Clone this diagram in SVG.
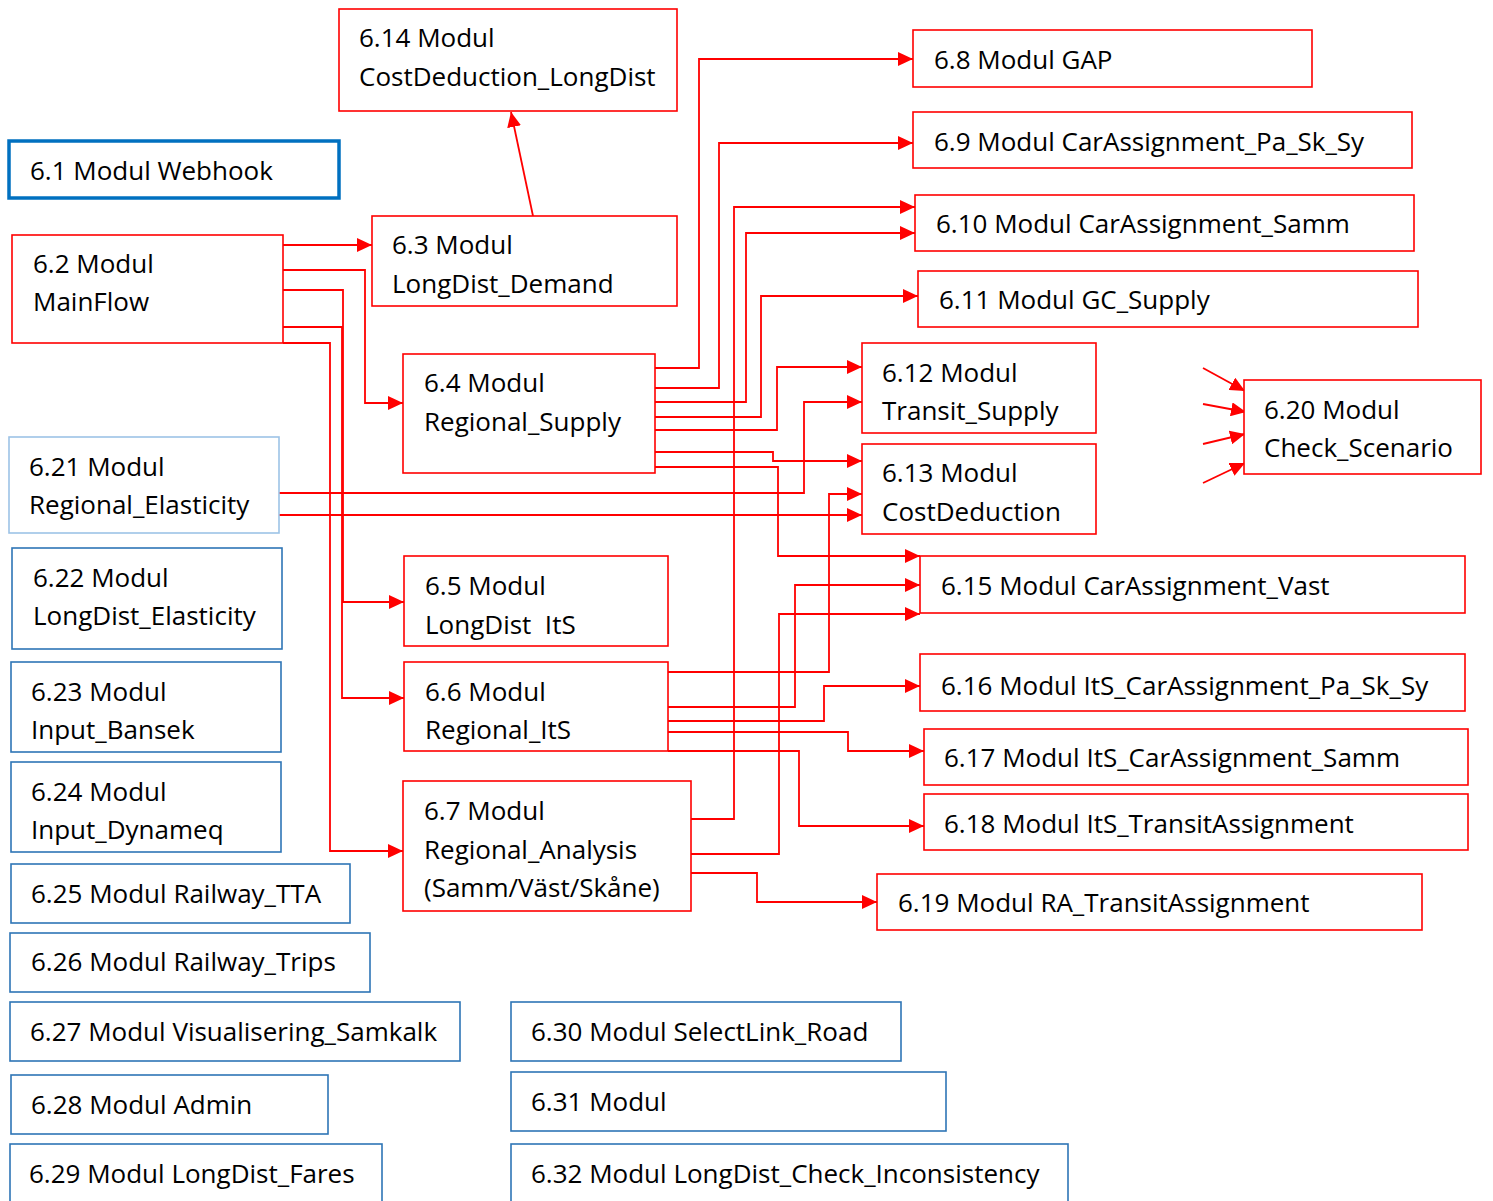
<svg xmlns="http://www.w3.org/2000/svg" width="1493" height="1201" viewBox="0 0 1493 1201">
<style>
text{font-family:"Open Sans","Noto Sans",sans-serif;font-size:26px;fill:#000;white-space:pre}
.r{fill:#fff;stroke:#ff0000;stroke-width:1.6}
.b{fill:#fff;stroke:#2e75b6;stroke-width:1.6}
.bt{fill:#fff;stroke:#0070c0;stroke-width:3.5}
.bl{fill:#fff;stroke:#9dc3e6;stroke-width:1.6}
.c{fill:none;stroke:#ff0000;stroke-width:1.8;marker-end:url(#ah)}
</style>
<defs>
<marker id="ah" markerUnits="userSpaceOnUse" markerWidth="16" markerHeight="14" refX="15" refY="7" orient="auto">
<path d="M0,0 L15,7 L0,14 Z" fill="#ff0000"/>
</marker>
</defs>
<rect width="1493" height="1201" fill="#fff"/>
<g id="connectors">
<path class="c" d="M283,245 H372"/>
<path class="c" d="M283,270 H365 V403 H403"/>
<path class="c" d="M283,290 H343 V602 H404"/>
<path class="c" d="M283,327 H342 V698 H404"/>
<path class="c" d="M283,343 H330 V851 H403"/>
<path class="c" d="M533,216 L511,112"/>
<path class="c" d="M655,368 H699 V59 H913"/>
<path class="c" d="M655,388 H719 V143 H913"/>
<path class="c" d="M655,402 H746 V233 H915"/>
<path class="c" d="M655,417 H761 V296 H918"/>
<path class="c" d="M655,430 H777 V367 H862"/>
<path class="c" d="M655,452 H773 V461 H862"/>
<path class="c" d="M655,467 H778 V556 H920"/>
<path class="c" d="M691,819 H734 V207 H915"/>
<path class="c" d="M279,493 H804 V402 H862"/>
<path class="c" d="M279,515 H862"/>
<path class="c" d="M668,672 H829 V494 H862"/>
<path class="c" d="M668,707 H795 V585 H920"/>
<path class="c" d="M668,721 H824 V686 H920"/>
<path class="c" d="M668,732 H848 V751 H924"/>
<path class="c" d="M668,751 H799 V826 H924"/>
<path class="c" d="M691,854 H779 V614 H920"/>
<path class="c" d="M691,873 H757 V902 H877"/>
<path class="c" d="M1203,368 L1245,391"/>
<path class="c" d="M1203,404 L1246,412"/>
<path class="c" d="M1203,444 L1245,434"/>
<path class="c" d="M1203,483 L1245,463"/>
</g>
<g id="n6_14"><rect class="r" x="339" y="9" width="338" height="102"/><text x="359" y="47">6.14 Modul</text><text x="359" y="86">CostDeduction_LongDist</text></g>
<g id="n6_1"><rect class="bt" x="9" y="141" width="330" height="57"/><text x="30" y="180">6.1 Modul Webhook</text></g>
<g id="n6_2"><rect class="r" x="12" y="235" width="271" height="108"/><text x="33" y="273">6.2 Modul</text><text x="33" y="311">MainFlow</text></g>
<g id="n6_3"><rect class="r" x="372" y="216" width="305" height="90"/><text x="392" y="254">6.3 Modul</text><text x="392" y="293">LongDist_Demand</text></g>
<g id="n6_4"><rect class="r" x="403" y="354" width="252" height="119"/><text x="424" y="392">6.4 Modul</text><text x="424" y="431">Regional_Supply</text></g>
<g id="n6_5"><rect class="r" x="404" y="556" width="264" height="90"/><text x="425" y="595">6.5 Modul</text><text x="425" y="634">LongDist  ItS</text></g>
<g id="n6_6"><rect class="r" x="404" y="662" width="264" height="89"/><text x="425" y="701">6.6 Modul</text><text x="425" y="739">Regional_ItS</text></g>
<g id="n6_7"><rect class="r" x="403" y="781" width="288" height="130"/><text x="424" y="820">6.7 Modul</text><text x="424" y="859">Regional_Analysis</text><text x="424" y="897">(Samm/Väst/Skåne)</text></g>
<g id="n6_8"><rect class="r" x="913" y="30" width="399" height="57"/><text x="934" y="69">6.8 Modul GAP</text></g>
<g id="n6_9"><rect class="r" x="913" y="112" width="499" height="56"/><text x="934" y="151">6.9 Modul CarAssignment_Pa_Sk_Sy</text></g>
<g id="n6_10"><rect class="r" x="915" y="195" width="499" height="56"/><text x="936" y="233">6.10 Modul CarAssignment_Samm</text></g>
<g id="n6_11"><rect class="r" x="918" y="271" width="500" height="56"/><text x="939" y="309">6.11 Modul GC_Supply</text></g>
<g id="n6_12"><rect class="r" x="862" y="343" width="234" height="90"/><text x="882" y="382">6.12 Modul</text><text x="882" y="420">Transit_Supply</text></g>
<g id="n6_13"><rect class="r" x="862" y="444" width="234" height="90"/><text x="882" y="482">6.13 Modul</text><text x="882" y="521">CostDeduction</text></g>
<g id="n6_15"><rect class="r" x="920" y="556" width="545" height="57"/><text x="941" y="595">6.15 Modul CarAssignment_Vast</text></g>
<g id="n6_16"><rect class="r" x="920" y="654" width="545" height="57"/><text x="941" y="695">6.16 Modul ItS_CarAssignment_Pa_Sk_Sy</text></g>
<g id="n6_17"><rect class="r" x="924" y="729" width="544" height="56"/><text x="944" y="767">6.17 Modul ItS_CarAssignment_Samm</text></g>
<g id="n6_18"><rect class="r" x="924" y="794" width="544" height="56"/><text x="944" y="833">6.18 Modul ItS_TransitAssignment</text></g>
<g id="n6_19"><rect class="r" x="877" y="874" width="545" height="56"/><text x="898" y="912">6.19 Modul RA_TransitAssignment</text></g>
<g id="n6_20"><rect class="r" x="1244" y="380" width="237" height="94"/><text x="1264" y="419">6.20 Modul</text><text x="1264" y="457">Check_Scenario</text></g>
<g id="n6_21"><rect class="bl" x="9" y="437" width="270" height="96"/><text x="29" y="476">6.21 Modul</text><text x="29" y="514">Regional_Elasticity</text></g>
<g id="n6_22"><rect class="b" x="12" y="548" width="270" height="101"/><text x="33" y="587">6.22 Modul</text><text x="33" y="625">LongDist_Elasticity</text></g>
<g id="n6_23"><rect class="b" x="11" y="662" width="270" height="90"/><text x="31" y="701">6.23 Modul</text><text x="31" y="739">Input_Bansek</text></g>
<g id="n6_24"><rect class="b" x="11" y="762" width="270" height="90"/><text x="31" y="801">6.24 Modul</text><text x="31" y="839">Input_Dynameq</text></g>
<g id="n6_25"><rect class="b" x="11" y="864" width="339" height="59"/><text x="31" y="903">6.25 Modul Railway_TTA</text></g>
<g id="n6_26"><rect class="b" x="10" y="933" width="360" height="59"/><text x="31" y="971">6.26 Modul Railway_Trips</text></g>
<g id="n6_27"><rect class="b" x="10" y="1002" width="450" height="59"/><text x="30" y="1041">6.27 Modul Visualisering_Samkalk</text></g>
<g id="n6_28"><rect class="b" x="11" y="1075" width="317" height="59"/><text x="31" y="1114">6.28 Modul Admin</text></g>
<g id="n6_29"><rect class="b" x="10" y="1144" width="372" height="70"/><text x="29" y="1183">6.29 Modul LongDist_Fares</text></g>
<g id="n6_30"><rect class="b" x="511" y="1002" width="390" height="59"/><text x="531" y="1041">6.30 Modul SelectLink_Road</text></g>
<g id="n6_31"><rect class="b" x="511" y="1072" width="435" height="59"/><text x="531" y="1111">6.31 Modul</text></g>
<g id="n6_32"><rect class="b" x="511" y="1144" width="557" height="70"/><text x="531" y="1183">6.32 Modul LongDist_Check_Inconsistency</text></g>
</svg>
